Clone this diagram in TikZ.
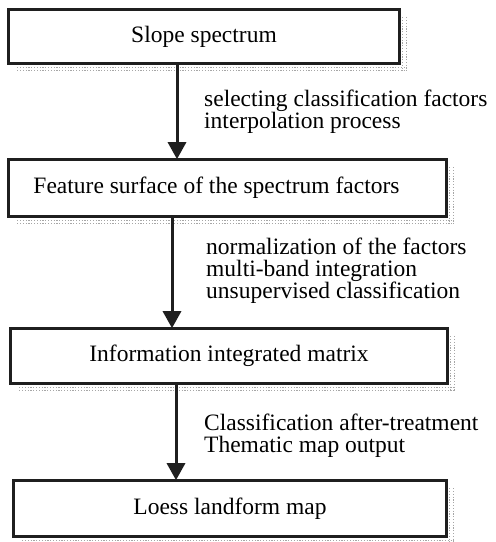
\documentclass[tikz,border=0pt]{standalone}
\usepackage{fontspec}
\setmainfont{Liberation Serif}
\usetikzlibrary{arrows.meta,calc}
\begin{document}
\begin{tikzpicture}[x=1pt,y=1pt,
  stepbox/.style={draw=black!88, line width=2.8pt, inner sep=0pt, outer sep=0pt,
    font=\fontsize{23.5}{22}\selectfont},
  steplabel/.style={anchor=base west, align=left, inner sep=0pt,
    font=\fontsize{23.5}{22}\selectfont},
  flow/.style={line width=3pt, draw=black!88, fill=black!88,
    -{Triangle[width=18pt,length=17pt]}},
  shadowdots/.style={draw=black!35, line width=1.2pt, dash pattern=on 1.2pt off 1.6pt}]
\useasboundingbox (0,0) rectangle (496,-542);

% process steps
\node[stepbox, minimum width=391.6, minimum height=54.6] (b1) at (204,-36.5) {Slope spectrum};
\node[stepbox, minimum width=438.6, minimum height=57.6] (b2) at (227.5,-188) {\hspace*{-22pt}Feature surface of the spectrum factors};
\node[stepbox, minimum width=437.6, minimum height=55.6] (b3) at (229,-356) {Information integrated matrix};
\node[stepbox, minimum width=433.6, minimum height=56.6] (b4) at (230,-508.5) {Loess landform map};

% dotted drop shadows
\foreach \n in {b1,b2,b3,b4}{
  \draw[shadowdots] ($(\n.north east)+(2.8,-8)$) -- ($(\n.south east)+(2.8,-7)$);
  \draw[shadowdots] ($(\n.north east)+(7,-8)$) -- ($(\n.south east)+(7,-7)$);
  \draw[shadowdots] ($(\n.south west)+(9,-3.5)$) -- ($(\n.south east)+(7,-3.5)$);
  \draw[shadowdots] ($(\n.south west)+(9,-7)$) -- ($(\n.south east)+(7,-7)$);
}

% connectors
\draw[flow] ([xshift=-27pt]b1.south) -- ([xshift=-27pt]b1.south |- b2.north);
\draw[flow] ([xshift=-55.5pt]b2.south) -- ([xshift=-55.5pt]b2.south |- b3.north);
\draw[flow] ([xshift=-53pt]b3.south) -- ([xshift=-53pt]b3.south |- b4.north);

% operation labels (anchored at the baseline of the last line)
\node[steplabel] (l1) at (204,-128) {selecting classification factors\\interpolation process};
\node[steplabel] (l2) at (206,-298) {normalization of the factors\\multi-band integration\\unsupervised classification};
\node[steplabel] (l3) at (204,-452) {Classification after-treatment\\Thematic map output};
\end{tikzpicture}
\end{document}
